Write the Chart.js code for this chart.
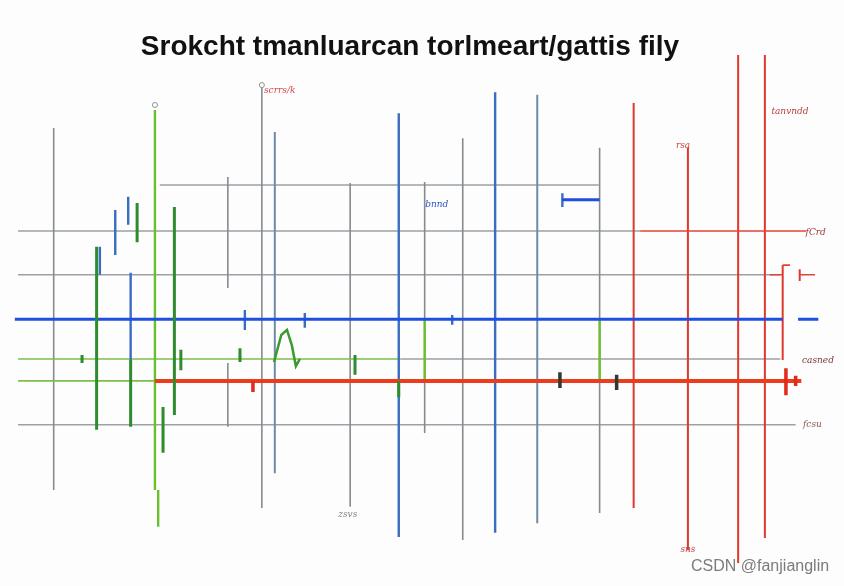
<!DOCTYPE html>
<html>
<head>
<meta charset="utf-8">
<title>Chart</title>
<script src="https://cdn.jsdelivr.net/npm/chart.js@4.4.0/dist/chart.umd.min.js"></script>
<style>
    body { margin: 0; background: #fdfdfd; }
    .wrap { position: relative; width: 844px; height: 586px; }
    #chart { position: absolute; left: 0; top: 0; }
    .title {
        position: absolute; left: 0; top: 30px; width: 820px;
        text-align: center; font: bold 28px "Liberation Sans", Arial, sans-serif; color: #111;
    }
    .mark {
        position: absolute; left: 691px; top: 557px;
        font: 16px "Liberation Sans", Arial, sans-serif; color: #7b7b7b;
    }
</style>
</head>
<body>
<div class="wrap">
    <canvas id="chart" width="844" height="586"></canvas>
    <div class="title">Srokcht tmanluarcan torlmeart/gattis fily</div>
    <div class="mark">CSDN @fanjianglin</div>
</div>
<script>
// rows = horizontal lines (y, from x, to x), cols = vertical lines (x, top y, bottom y)
const grayRowY = [74.5, 65.5, 56.9, 40.4, 27.5];
const grayRowFrom = [18.0, 0.5, 0.5, 47.7, 0.5];
const grayRowTo = [72.2, 77.3, 94.6, 94.6, 96.5];

const grayColX = [4.9, 26.4, 26.4, 30.6, 41.5, 50.7, 55.4, 72.3];
const grayColTop = [85.7, 76.1, 39.6, 94.1, 74.9, 75.1, 83.7, 81.8];
const grayColBottom = [14.7, 54.3, 27.1, 11.2, 11.4, 25.9, 4.9, 10.2];

const steelColX = [32.2, 64.6];
const steelColTop = [84.9, 92.2];
const steelColBottom = [18.0, 8.2];

const blueColX = [47.5, 59.4, 10.6, 12.5, 14.1, 14.4, 28.5, 35.9, 54.1, 67.7];
const blueColTop = [88.6, 92.7, 62.4, 69.6, 72.2, 57.3, 50.0, 49.4, 49.0, 72.9];
const blueColBottom = [5.5, 6.3, 56.9, 60.8, 66.7, 40.2, 46.1, 46.5, 47.1, 70.2];

const blueRowY = [48.2, 48.2, 71.6];
const blueRowFrom = [0.1, 96.8, 67.7];
const blueRowTo = [94.9, 99.3, 72.3];

const greenRowY = [40.4, 36.1];
const greenRowFrom = [0.5, 0.5];
const greenRowTo = [47.7, 17.4];

const limeColX = [17.4, 17.8, 72.3, 50.7];
const limeColTop = [89.2, 14.7, 48.2, 48.2];
const limeColBottom = [14.7, 7.5, 36.1, 36.1];

const darkGreenColX = [10.2, 15.2, 19.8, 18.4, 20.6, 27.9, 8.4, 42.1, 14.4, 47.5];
const darkGreenColTop = [62.4, 71.0, 70.2, 31.0, 42.2, 42.5, 41.2, 41.2, 40.2, 36.1];
const darkGreenColBottom = [26.5, 63.3, 29.4, 22.0, 38.2, 39.8, 39.6, 37.3, 27.1, 32.9];

const humpX = [32.1, 33.0, 33.7, 34.3, 34.8, 35.3];
const humpY = [39.8, 45.1, 46.1, 43.1, 39.0, 40.4];

const redColX = [76.5, 83.2, 89.4, 92.7, 94.9, 97.0];
const redColTop = [90.6, 81.8, 100, 100, 58.8, 58.0];
const redColBottom = [11.2, 2.9, 0.4, 5.3, 40.2, 55.7];

const redRowY = [65.5, 56.9, 58.8, 56.9];
const redRowFrom = [77.3, 93.3, 94.9, 97.0];
const redRowTo = [97.8, 94.9, 95.8, 98.9];

const redBandY = [36.1];
const redBandFrom = [17.4];
const redBandTo = [97.2];

const redTickX = [95.3, 96.5, 29.5];
const redTickTop = [38.6, 37.1, 36.1];
const redTickBottom = [33.3, 35.1, 33.9];

const darkTickX = [67.4, 74.4];
const darkTickTop = [37.8, 37.3];
const darkTickBottom = [34.7, 34.3];

const dotX = [17.4, 30.6];
const dotY = [90.2, 94.1];

const noteText = ['scrrs/k', 'tanvndd', 'rsa', 'fCrd', 'casned', 'fcsu', 'bnnd', 'zsvs', 'sns'];
const noteX = [32.8, 95.8, 82.6, 98.5, 99.5, 98.0, 52.2, 41.2, 83.2];
const noteY = [93.1, 88.8, 82.2, 65.1, 40.0, 27.5, 70.6, 9.8, 3.1];
const noteColor = ['#d0464a', '#b8413a', '#c9463f', '#9a3a35', '#7a3530', '#8a5a50', '#2a55c0', '#888', '#c04040'];

function cols(xs, tops, bottoms) {
    const pts = [];
    xs.forEach((x, i) => {
        pts.push({ x: x, y: tops[i] }, { x: x, y: bottoms[i] }, { x: x, y: null });
    });
    return pts;
}

function rows(ys, froms, tos) {
    const pts = [];
    ys.forEach((y, i) => {
        pts.push({ x: froms[i], y: y }, { x: tos[i], y: y }, { x: tos[i], y: null });
    });
    return pts;
}

function line(data, color, width, order) {
    return {
        data: data,
        showLine: true,
        spanGaps: false,
        borderColor: color,
        borderWidth: width,
        borderCapStyle: 'butt',
        pointRadius: 0,
        tension: 0,
        order: order
    };
}

const notesPlugin = {
    id: 'notes',
    afterDatasetsDraw(chart) {
        const c = chart.ctx;
        const xs = chart.scales.x;
        const ys = chart.scales.y;
        c.save();
        c.font = 'italic 9px "DejaVu Serif", serif';
        c.textBaseline = 'middle';
        noteText.forEach((t, i) => {
            c.fillStyle = noteColor[i];
            c.textAlign = noteX[i] > 97 ? 'right' : 'center';
            c.fillText(t, xs.getPixelForValue(noteX[i]) + (noteX[i] > 97 ? 14 : 0), ys.getPixelForValue(noteY[i]));
        });
        c.restore();
    }
};

const ctx = document.getElementById('chart').getContext('2d');
new Chart(ctx, {
    type: 'scatter',
    data: {
        datasets: [
            line(rows(grayRowY, grayRowFrom, grayRowTo), '#9da1a5', 1.5, 20),
            line(cols(grayColX, grayColTop, grayColBottom), '#868b90', 1.6, 19),
            line(cols(steelColX, steelColTop, steelColBottom), '#6f8aa6', 2, 18),
            line(rows(greenRowY, greenRowFrom, greenRowTo), '#7cc04a', 1.6, 17),
            line(cols(redColX, redColTop, redColBottom), '#e0382e', 2, 16),
            line(rows(redRowY, redRowFrom, redRowTo), '#e0443a', 1.6, 15),
            line(cols(blueColX, blueColTop, blueColBottom), '#3a6cc2', 2.4, 14),
            line(cols(limeColX, limeColTop, limeColBottom), '#6cbf2c', 2.4, 13),
            line(rows(blueRowY, blueRowFrom, blueRowTo), '#1f4fe0', 3, 12),
            line(rows(redBandY, redBandFrom, redBandTo), '#ec3c1e', 4, 11),
            line(cols(darkGreenColX, darkGreenColTop, darkGreenColBottom), '#2e8b2e', 3, 10),
            line(humpX.map((x, i) => ({ x: x, y: humpY[i] })), '#3a9a2e', 2.5, 9),
            line(cols(redTickX, redTickTop, redTickBottom), '#e02a1a', 3.5, 8),
            line(cols(darkTickX, darkTickTop, darkTickBottom), '#2f3a2f', 3.5, 7),
            {
                data: dotX.map((x, i) => ({ x: x, y: dotY[i] })),
                pointRadius: 2.5,
                pointBackgroundColor: '#ffffff',
                borderColor: '#8a8f8a',
                borderWidth: 1,
                order: 1
            }
        ]
    },
    options: {
        responsive: false,
        animation: false,
        events: [],
        layout: {
            padding: { left: 14, right: 20, top: 55, bottom: 21 }
        },
        plugins: {
            legend: { display: false },
            tooltip: { enabled: false }
        },
        scales: {
            x: { type: 'linear', min: 0, max: 100, display: false },
            y: { type: 'linear', min: 0, max: 100, display: false }
        }
    },
    plugins: [notesPlugin]
});
</script>
</body>
</html>
